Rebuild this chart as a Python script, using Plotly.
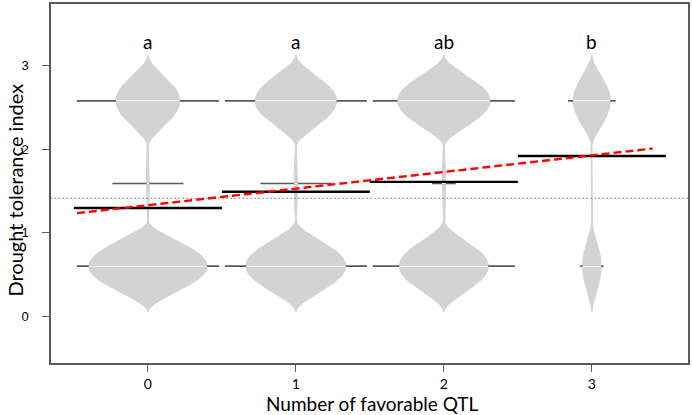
import numpy as np
import plotly.graph_objects as go


# number of favorable QTL (groups) and the letters of the multiple comparison
qtl_groups = [0, 1, 2, 3]
sig_letters = ['a', 'a', 'ab', 'b']

# observed values of the index and how many lines fall on each value, per group
index_levels = [0.6, 1.59, 2.58]
counts_q0 = [130, 3, 70]
counts_q1 = [81, 3, 66]
counts_q2 = [25, 1, 26]
counts_q3 = [1, 0, 2]

# fitted regression line
reg_intercept = 1.33
reg_slope = 0.199


# beanplot settings (biweight kernel)
HALFSPAN = 0.55      # kernel support
GROWNAGE = 10
MAXWIDTH = 0.8
LL = 0.16
MAXSTRIP = 0.96

BEAN = '#d3d3d3'
INNER = '#f4f4f4'
OUTER = '#5a5a5a'
FRAME = '#5a5a5a'

all_counts = [counts_q0, counts_q1, counts_q2, counts_q3]
lev = np.asarray(index_levels)


def density(cnt, y):
    cnt = np.asarray(cnt, dtype=float)
    n = cnt.sum()
    u = (y[:, None] - lev[None, :]) / HALFSPAN
    k = np.where(np.abs(u) < 1, 15 / 16 * (1 - u ** 2) ** 2, 0.0)
    d = (k * cnt[None, :]).sum(axis=1) / (n * HALFSPAN)
    return d * min(1.0, n / GROWNAGE)


ygrid = np.linspace(lev.min() - HALFSPAN, lev.max() + HALFSPAN, 600)
dens = [density(c, ygrid) for c in all_counts]
wd = MAXWIDTH / max(d.max() for d in dens)


traces = []

# beans
for g, d in zip(qtl_groups, dens):
    half = d * wd / 2
    xs = np.concatenate([g - half, (g + half)[::-1]])
    ys = np.concatenate([ygrid, ygrid[::-1]])
    traces.append(go.Scatter(x=xs, y=ys, mode='lines', fill='toself',
                             fillcolor=BEAN, line=dict(color=BEAN, width=1.2),
                             hoverinfo='skip', showlegend=False))

# beanlines, one per observed value, longer when several lines share it
ox, oy, ix, iy = [], [], [], []
for g, cnt in zip(qtl_groups, all_counts):
    for v, c in zip(index_levels, cnt):
        if c == 0:
            continue
        h = min(LL * c, MAXSTRIP) / 2
        hb = min(density(cnt, np.asarray([v]))[0] * wd / 2, h)
        ox += [g - h, g + h, None]
        oy += [v, v, None]
        ix += [g - hb, g + hb, None]
        iy += [v, v, None]

traces.append(go.Scatter(x=ox, y=oy, mode='lines', line=dict(color=OUTER, width=1.6),
                         hoverinfo='skip', showlegend=False))
traces.append(go.Scatter(x=ix, y=iy, mode='lines', line=dict(color=INNER, width=1.6),
                         hoverinfo='skip', showlegend=False))

# group means
means = [np.dot(c, index_levels) / np.sum(c) for c in all_counts]
mx, my = [], []
for g, m in zip(qtl_groups, means):
    mx += [g - 0.5, g + 0.5, None]
    my += [m, m, None]
traces.append(go.Scatter(x=mx, y=my, mode='lines', line=dict(color='black', width=2.4),
                         hoverinfo='skip', showlegend=False))

# overall mean
overall = np.sum([np.dot(c, index_levels) for c in all_counts]) / np.sum(all_counts)
traces.append(go.Scatter(x=[-0.66, 3.66], y=[overall, overall], mode='lines',
                         line=dict(color='#8c8c8c', width=1, dash='2px,2px'),
                         hoverinfo='skip', showlegend=False))

# regression
rx = np.asarray([-0.48, 3.41])
traces.append(go.Scatter(x=rx, y=reg_intercept + reg_slope * rx, mode='lines',
                         line=dict(color='#ff0000', width=2.4, dash='8px,4px'),
                         hoverinfo='skip', showlegend=False))


fig = go.Figure(data=traces)

for g, t in zip(qtl_groups, sig_letters):
    fig.add_annotation(x=g, y=3.29, text=t, showarrow=False, yanchor='middle',
                       font=dict(family='Lato', size=19, color='black'))

fig.add_annotation(text='Drought tolerance index', xref='paper', yref='paper',
                   x=0, y=0.5, xanchor='center', yanchor='middle',
                   xshift=-37, yshift=-7, textangle=-90, showarrow=False,
                   font=dict(family='Lato', size=20, color='black'))
fig.add_annotation(text='Number of favorable QTL', xref='paper', yref='paper',
                   x=0.5, y=0, xanchor='center', yanchor='middle',
                   xshift=3, yshift=-40, showarrow=False,
                   font=dict(family='Lato', size=19, color='black'))

fig.update_layout(
    width=692,
    height=415,
    margin=dict(l=51, r=4, t=2, b=52),
    plot_bgcolor='white',
    paper_bgcolor='white',
    showlegend=False,
)

fig.update_xaxes(
    range=[-0.655, 3.65],
    tickvals=qtl_groups,
    ticktext=[str(g) for g in qtl_groups],
    ticks='outside', ticklen=7, tickcolor=FRAME, tickwidth=1.2,
    showline=True, linecolor=FRAME, linewidth=1.5, mirror=True,
    showgrid=False, zeroline=False,
    tickfont=dict(family='Lato', size=14, color='black'),
)
fig.update_yaxes(
    range=[-0.56, 3.74],
    tickvals=[0, 1, 2, 3],
    ticks='outside', ticklen=7, tickcolor=FRAME, tickwidth=1.2,
    showline=True, linecolor=FRAME, linewidth=1.5, mirror=True,
    showgrid=False, zeroline=False,
    ticklabelstandoff=11,
    tickfont=dict(family='Liberation Sans', size=13, color='black'),
)

fig.write_html('out.html', config={'displayModeBar': False},
               post_script="document.body.style.margin='0';")
